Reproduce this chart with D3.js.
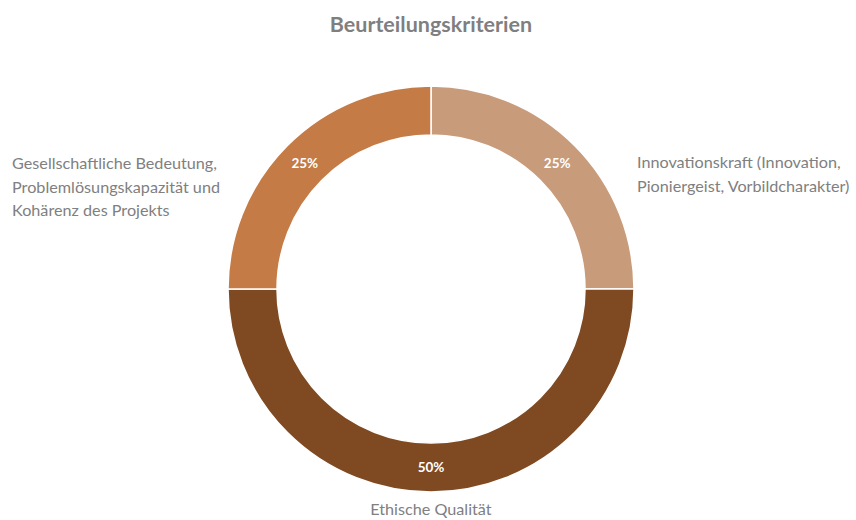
<!DOCTYPE html>
<html>
<head>
<meta charset="utf-8">
<script src="https://cdn.jsdelivr.net/npm/d3@7"></script>
<style>
  body { margin: 0; background: #fff; }
  svg { display: block; }
</style>
</head>
<body>
<div id="chart"></div>
<script>

// Data
var categories = [
    'Innovationskraft (Innovation,\nPioniergeist, Vorbildcharakter)',
    'Ethische Qualität',
    'Gesellschaftliche Bedeutung,\nProblemlösungskapazität und\nKohärenz des Projekts'
];
var shares = [25, 50, 25];
var colors = ['#c89b7b', '#7f4a22', '#c47b46'];
var title = 'Beurteilungskriterien';

var W = 856, H = 520;
var cx = 431, cy = 289;
var outer = 203, inner = 154;
var font = 'Lato, "Open Sans", sans-serif';

var svg = d3.select( '#chart' )
            .append( 'svg' )
            .attr( 'width', W )
            .attr( 'height', H );

svg.append( 'text' )
    .attr( 'x', cx )
    .attr( 'y', 32 )
    .attr( 'text-anchor', 'middle' )
    .style( 'font', 'bold 21.5px ' + font )
    .attr( 'fill', '#7f7f7f' )
    .text( title );

var pie = d3.pie().sort( null ).value( function ( d ) { return d; } );
var arcs = pie( shares );

var arc = d3.arc().innerRadius( inner ).outerRadius( outer );

var g = svg.append( 'g' )
           .attr( 'transform', 'translate(' + cx + ',' + cy + ')' );

g.selectAll( '.slice' )
    .data( arcs ).enter()
    .append( 'path' )
    .attr( 'class', 'slice' )
    .attr( 'd', arc )
    .attr( 'fill', function ( d, i ) { return colors[i]; } )
    .attr( 'stroke', '#fff' )
    .attr( 'stroke-width', 1.5 );

// percent labels at the centroid
g.selectAll( '.pct' )
    .data( arcs ).enter()
    .append( 'text' )
    .attr( 'class', 'pct' )
    .attr( 'transform', function ( d ) { return 'translate(' + arc.centroid( d ) + ')'; } )
    .attr( 'text-anchor', 'middle' )
    .attr( 'dy', '.35em' )
    .style( 'font', 'bold 13.5px ' + font )
    .attr( 'fill', '#fff' )
    .text( function ( d ) { return d.data + '%'; } );

// category labels outside the ring
var lineH = 23.5;
arcs.forEach( function ( d, i ) {
    var lines = categories[i].split( '\n' );
    var mid = ( d.startAngle + d.endAngle ) / 2;
    var sx = Math.sin( mid ), sy = -Math.cos( mid );
    var t = g.append( 'text' )
             .style( 'font', '16.2px ' + font )
             .attr( 'fill', '#808080' );
    lines.forEach( function ( l, j ) {
        t.append( 'tspan' ).attr( 'x', 0 ).attr( 'y', j * lineH ).text( l );
    } );
    var bb = t.node().getBBox();
    var px, py;
    if ( Math.abs( sx ) < 0.2 ) {
        px = -bb.width / 2;
        py = outer + 23;
    } else if ( sx > 0 ) {
        px = outer + 3;
        py = sy * outer * 0.84;
    } else {
        px = -outer - 8 - bb.width;
        py = sy * outer * 0.835;
    }
    t.attr( 'transform', 'translate(' + px + ',' + py + ')' );
} );

</script>
</body>
</html>
